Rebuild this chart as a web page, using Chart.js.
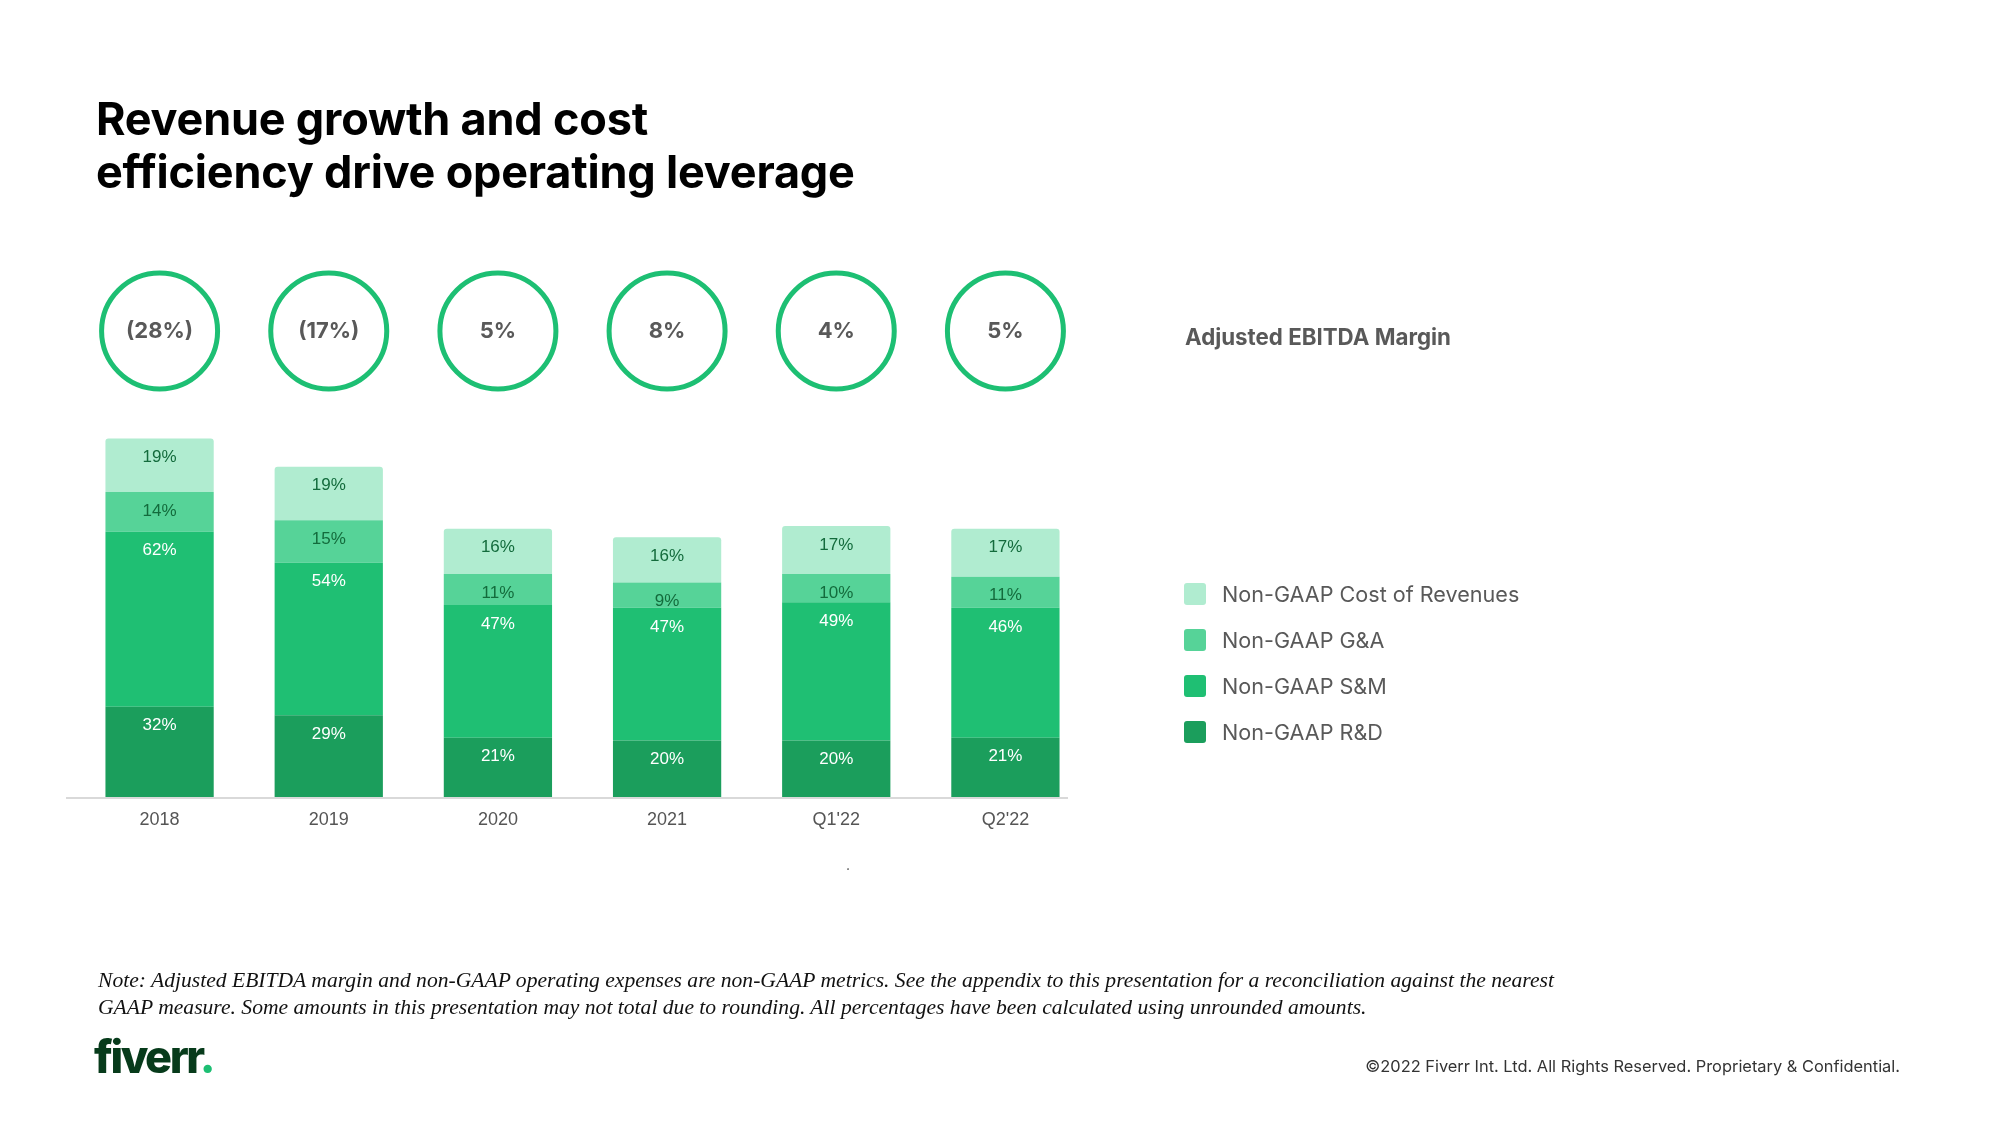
<!DOCTYPE html>
<html>
<head>
<meta charset="utf-8">
<title>Revenue growth and cost efficiency drive operating leverage</title>
<script src="https://cdn.jsdelivr.net/npm/chart.js@4.4.0/dist/chart.umd.js"></script>
<style>
    html, body {
        margin: 0;
        padding: 0;
        background: #ffffff;
    }
    #page {
        position: relative;
        width: 2000px;
        height: 1125px;
        overflow: hidden;
        font-family: Inter, 'Noto Sans', sans-serif;
    }
    #myChart {
        position: absolute;
        left: 0;
        top: 0;
    }
    .title {
        position: absolute;
        left: 96px;
        top: 92px;
        font-size: 45px;
        line-height: 53px;
        font-weight: 700;
        color: #000;
        letter-spacing: -0.2px;
    }
    .ebitda-title {
        position: absolute;
        left: 1185px;
        top: 323px;
        font-size: 22.3px;
        line-height: 28px;
        font-weight: 700;
        color: #595959;
    }
    .legend {
        position: absolute;
        left: 1184px;
        top: 583px;
    }
    .legend-item {
        height: 46px;
        display: flex;
        align-items: flex-start;
    }
    .legend-box {
        width: 22px;
        height: 22px;
        border-radius: 3px;
        margin-right: 16px;
    }
    .legend-text {
        font-size: 21.6px;
        line-height: 22px;
        color: #595959;
    }
    .note {
        position: absolute;
        left: 98px;
        top: 967px;
        font-family: 'Liberation Serif', serif;
        font-style: italic;
        font-size: 21.6px;
        line-height: 27px;
        color: #111;
        white-space: nowrap;
    }
    .logo {
        position: absolute;
        left: 94px;
        top: 1030px;
        font-size: 45px;
        line-height: 54px;
        font-weight: 800;
        letter-spacing: -2.5px;
        color: #073b1b;
    }
    .logo span {
        color: #1dbf73;
    }
    .footer {
        position: absolute;
        right: 100px;
        top: 1056px;
        font-size: 16.4px;
        line-height: 20px;
        color: #333;
    }
    .stray {
        position: absolute;
        left: 846px;
        top: 856px;
        font-size: 14px;
        color: #555;
    }
</style>
</head>
<body>
<div id="page">
    <canvas id="myChart" width="2000" height="1125"></canvas>
    <div class="title">Revenue growth and cost<br>efficiency drive operating leverage</div>
    <div class="ebitda-title">Adjusted EBITDA Margin</div>
    <div class="legend" id="legend"></div>
    <div class="note">Note: Adjusted EBITDA margin and non-GAAP operating expenses are non-GAAP metrics. See the appendix to this presentation for a reconciliation against the nearest<br>GAAP measure. Some amounts in this presentation may not total due to rounding. All percentages have been calculated using unrounded amounts.</div>
    <div class="logo">fiverr<span>.</span></div>
    <div class="footer">©2022 Fiverr Int. Ltd. All Rights Reserved. Proprietary &amp; Confidential.</div>
    <div class="stray">.</div>
</div>

<script>
// Chart data
const periods = ['2018', '2019', '2020', '2021', "Q1'22", "Q2'22"];
const ebitdaMargin = [-28, -17, 5, 8, 4, 5];
const rdValues = [32, 29, 21, 20, 20, 21];
const smValues = [62, 54, 47, 47, 49, 46];
const gaValues = [14, 15, 11, 9, 10, 11];
const costValues = [19, 19, 16, 16, 17, 17];
const seriesNames = ['Non-GAAP R&D', 'Non-GAAP S&M', 'Non-GAAP G&A', 'Non-GAAP Cost of Revenues'];

const colors = {
    rd: '#1b9e5c',
    sm: '#1fbf73',
    ga: '#56d398',
    cost: '#b0ecd0',
    darkLabel: '#136b3c',
    ring: '#1dbf73'
};

function formatMargin(v) {
    return v < 0 ? '(' + Math.abs(v) + '%)' : v + '%';
}

// Draws the value inside the top of each bar segment
const segmentLabels = {
    id: 'segmentLabels',
    afterDatasetsDraw(chart) {
        const ctx = chart.ctx;
        ctx.save();
        ctx.font = '17px "Liberation Sans", Arial, sans-serif';
        ctx.textAlign = 'center';
        ctx.textBaseline = 'middle';
        chart.data.datasets.forEach((ds, di) => {
            const meta = chart.getDatasetMeta(di);
            meta.data.forEach((bar, i) => {
                ctx.fillStyle = ds.labelColor;
                ctx.fillText(ds.data[i] + '%', bar.x, bar.y + 19);
            });
        });
        ctx.restore();
    }
};

// Baseline rule under the bars, a bit offset from the plot area like the slide
const baseLine = {
    id: 'baseLine',
    beforeDatasetsDraw(chart) {
        const { ctx, chartArea } = chart;
        ctx.save();
        ctx.beginPath();
        ctx.moveTo(chartArea.left - 9, chartArea.bottom + 1);
        ctx.lineTo(chartArea.right - 22, chartArea.bottom + 1);
        ctx.lineWidth = 2;
        ctx.strokeStyle = '#d9d9d9';
        ctx.stroke();
        ctx.restore();
    }
};

// Draws the EBITDA margin rings above each bar
const marginRings = {
    id: 'marginRings',
    afterDatasetsDraw(chart) {
        const ctx = chart.ctx;
        const xScale = chart.scales.x;
        ctx.save();
        ebitdaMargin.forEach((v, i) => {
            const x = xScale.getPixelForValue(i);
            const y = 331;
            ctx.beginPath();
            ctx.arc(x, y, 58, 0, Math.PI * 2);
            ctx.lineWidth = 5;
            ctx.strokeStyle = colors.ring;
            ctx.stroke();
            ctx.fillStyle = '#595959';
            ctx.font = '700 22px Inter, sans-serif';
            ctx.textAlign = 'center';
            ctx.textBaseline = 'middle';
            ctx.fillText(formatMargin(v), x, y);
        });
        ctx.restore();
    }
};

function buildLegend() {
    const legend = document.getElementById('legend');
    const items = [
        { name: seriesNames[3], color: colors.cost },
        { name: seriesNames[2], color: colors.ga },
        { name: seriesNames[1], color: colors.sm },
        { name: seriesNames[0], color: colors.rd }
    ];
    items.forEach(item => {
        const row = document.createElement('div');
        row.className = 'legend-item';
        row.innerHTML = '<div class="legend-box" style="background:' + item.color + '"></div>' +
            '<div class="legend-text">' + item.name.replace('&', '&amp;') + '</div>';
        legend.appendChild(row);
    });
}

function initializeChart() {
    const ctx = document.getElementById('myChart');

    new Chart(ctx, {
        type: 'bar',
        data: {
            labels: periods,
            datasets: [
                { label: seriesNames[0], data: rdValues, backgroundColor: colors.rd, labelColor: '#ffffff' },
                { label: seriesNames[1], data: smValues, backgroundColor: colors.sm, labelColor: '#ffffff' },
                { label: seriesNames[2], data: gaValues, backgroundColor: colors.ga, labelColor: colors.darkLabel },
                {
                    label: seriesNames[3],
                    data: costValues,
                    backgroundColor: colors.cost,
                    labelColor: colors.darkLabel,
                    borderRadius: { topLeft: 3, topRight: 3, bottomLeft: 0, bottomRight: 0 },
                    borderSkipped: 'bottom'
                }
            ]
        },
        options: {
            responsive: false,
            animation: false,
            devicePixelRatio: 1,
            categoryPercentage: 1,
            barPercentage: 0.64,
            layout: {
                padding: { left: 75, right: 910, top: 430, bottom: 288 }
            },
            plugins: {
                legend: { display: false },
                tooltip: { enabled: false }
            },
            scales: {
                x: {
                    stacked: true,
                    grid: { display: false, drawTicks: false },
                    border: { display: false },
                    ticks: {
                        padding: 12,
                        color: '#555555',
                        font: { family: '"Liberation Sans", Arial, sans-serif', size: 18 }
                    },
                    afterFit(scale) {
                        scale.height = 40;
                    }
                },
                y: {
                    stacked: true,
                    display: false,
                    min: 0,
                    max: 130
                }
            }
        },
        plugins: [baseLine, segmentLabels, marginRings]
    });
}

document.addEventListener('DOMContentLoaded', function() {
    buildLegend();
    initializeChart();
});
</script>
</body>
</html>
